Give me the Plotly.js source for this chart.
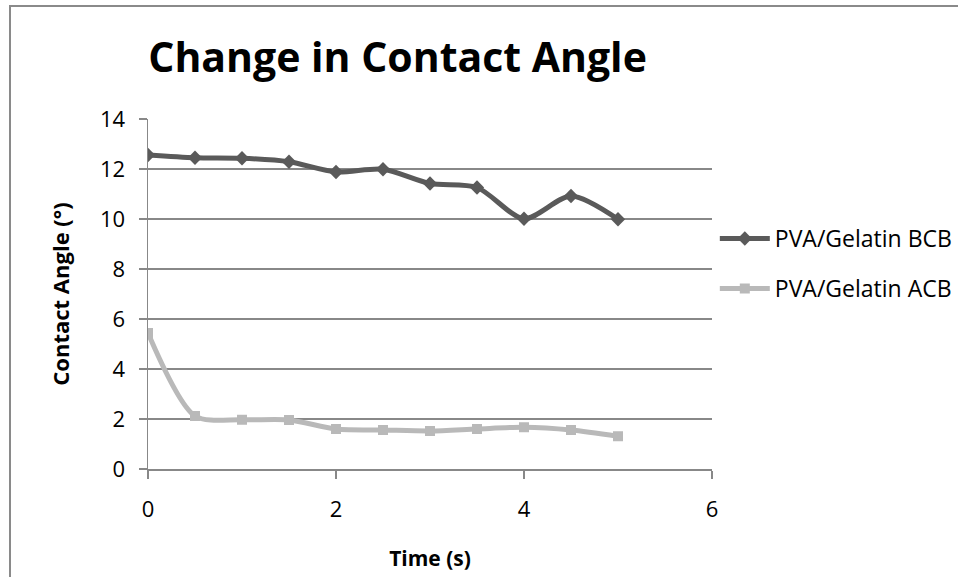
<!DOCTYPE html>
<html>
<head>
<meta charset="utf-8">
<script src="https://cdn.plot.ly/plotly-3.0.1.min.js"></script>
<style>
  html, body { margin: 0; padding: 0; background: #ffffff; }
  #wrap { position: relative; width: 958px; height: 577px; overflow: hidden; }
  #chart { position: absolute; left: 0; top: 0; width: 958px; height: 577px; }
  #frame { position: absolute; left: 9px; top: 5px; width: 960px; height: 590px; border: 2px solid #8a8a8a; box-sizing: border-box; pointer-events: none; }
</style>
</head>
<body>
<div id="wrap">
  <div id="chart"></div>
  <div id="frame"></div>
</div>
<script>
// Data
const timeS = [0, 0.5, 1, 1.5, 2, 2.5, 3, 3.5, 4, 4.5, 5];
const bcbValues = [12.56, 12.45, 12.43, 12.29, 11.88, 11.99, 11.42, 11.26, 10.01, 10.92, 9.99];
const acbValues = [5.44, 2.12, 1.97, 1.96, 1.6, 1.56, 1.52, 1.6, 1.67, 1.56, 1.31];
const seriesNames = ["PVA/Gelatin BCB", "PVA/Gelatin ACB"];
const xTicks = [0, 2, 4, 6];
const yTicks = [0, 2, 4, 6, 8, 10, 12, 14];

const FONT = "Open Sans, Noto Sans, sans-serif";
const gridCol = "#888888";

const traces = [
  {
    x: timeS, y: bcbValues, name: seriesNames[0], type: "scatter", mode: "lines+markers",
    line: { color: "#5a5a5a", width: 5, shape: "spline", smoothing: 0.8 },
    marker: { symbol: "diamond", size: 11, color: "#5a5a5a" },
    legendgroup: "a"
  },
  {
    x: timeS, y: acbValues, name: seriesNames[1], type: "scatter", mode: "lines+markers",
    line: { color: "#b9b9b9", width: 5, shape: "spline", smoothing: 0.8 },
    marker: { symbol: "square", size: 10, color: "#b9b9b9" },
    legendgroup: "b"
  }
];

const layout = {
  width: 958, height: 577,
  margin: { l: 148, r: 246, t: 119, b: 108, autoexpand: false },
  paper_bgcolor: "#ffffff", plot_bgcolor: "#ffffff",
  font: { family: FONT, color: "#000000", size: 22 },
  title: {
    text: "<b>Change in Contact Angle</b>",
    font: { family: FONT, size: 41, color: "#000000" },
    xref: "container", yref: "container",
    x: 0.415, xanchor: "center", y: 0.9, yanchor: "middle"
  },
  xaxis: {
    range: [0, 6], tickvals: xTicks, ticktext: xTicks.map(String),
    showgrid: false, zeroline: false,
    showline: true, linecolor: gridCol, linewidth: 1.5,
    ticks: "outside", ticklen: 8, tickcolor: gridCol, tickwidth: 1.5,
    ticklabelstandoff: 12,
    tickfont: { family: FONT, size: 22, color: "#000000" },
    title: { text: "<b>Time (s)</b>", font: { family: FONT, size: 21, color: "#000000" }, standoff: 29 }
  },
  yaxis: {
    range: [0, 14], tickvals: yTicks, ticktext: yTicks.map(String),
    showgrid: true, gridcolor: gridCol, gridwidth: 1.5, zeroline: false,
    showline: true, linecolor: gridCol, linewidth: 1.5,
    ticks: "outside", ticklen: 8, tickcolor: gridCol, tickwidth: 1.5,
    ticklabelstandoff: 9,
    tickfont: { family: FONT, size: 22, color: "#000000" },
    title: { text: "<b>Contact Angle (°)</b>", font: { family: FONT, size: 22, color: "#000000" }, standoff: 24 }
  },
  showlegend: true,
  legend: {
    x: 1.005, xanchor: "left", y: 0.587, yanchor: "middle",
    font: { family: FONT, size: 23, color: "#000000" },
    traceorder: "grouped", tracegroupgap: 17,
    itemwidth: 50, bgcolor: "rgba(0,0,0,0)"
  }
};

Plotly.newPlot("chart", traces, layout, { displayModeBar: false, staticPlot: true });
</script>
</body>
</html>
